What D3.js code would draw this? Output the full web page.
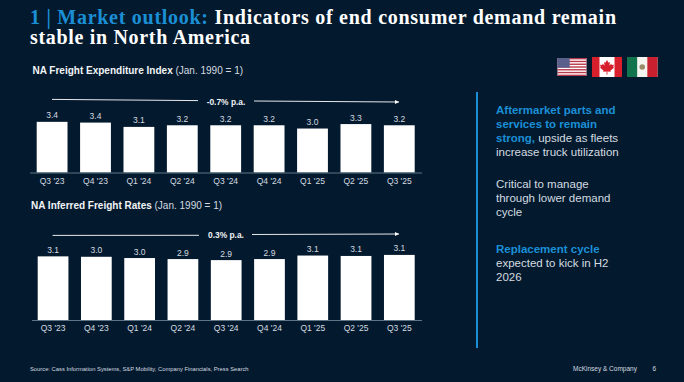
<!DOCTYPE html>
<html>
<head>
<meta charset="utf-8">
<script src="https://cdn.jsdelivr.net/npm/d3@7"></script>
<style>
  html, body { margin: 0; padding: 0; background: #031a2e; overflow: hidden; }
  svg { display: block; font-family: "Liberation Sans", Arial, sans-serif; }
</style>
</head>
<body>
<svg id="slide" width="684" height="382"></svg>
<script>
// chart data
const quarters = ["Q3 '23", "Q4 '23", "Q1 '24", "Q2 '24", "Q3 '24", "Q4 '24", "Q1 '25", "Q2 '25", "Q3 '25"]
const expenditure = [3.41, 3.36, 3.07, 3.18, 3.18, 3.18, 2.96, 3.26, 3.18]
const freightRates = [3.06, 3.04, 2.98, 2.93, 2.88, 2.93, 3.10, 3.08, 3.13]

const bgColor = "#031a2e", blue = "#1b8fd6", textColor = "#d5dbe0", axisColor = "#5f7484"

const svg = d3.select("#slide")
svg.append("rect").attr("width", 684).attr("height", 382).attr("fill", bgColor)

//---------------- title ----------------//
const title = svg.append("text").attr("x", 30).attr("y", 24)
  .attr("font-family", "'Liberation Serif', Georgia, serif").attr("font-weight", "bold")
  .attr("font-size", 20).attr("textLength", 586).attr("lengthAdjust", "spacing")
title.append("tspan").attr("fill", blue).text("1 | Market outlook: ")
title.append("tspan").attr("fill", "#fff").text("Indicators of end consumer demand remain")
svg.append("text").attr("x", 30).attr("y", 44)
  .attr("font-family", "'Liberation Serif', Georgia, serif").attr("font-weight", "bold")
  .attr("font-size", 20).attr("textLength", 220).attr("lengthAdjust", "spacing")
  .attr("fill", "#fff").text("stable in North America")

//---------------- bar charts ----------------//
function drawBars(cfg) {
  const g = svg.append("g")

  const sub = g.append("text").attr("x", cfg.subX).attr("y", cfg.subY).attr("font-size", 10).attr("fill", textColor)
  sub.append("tspan").attr("font-weight", "bold").attr("fill", "#f2f4f6").text(cfg.name)
  sub.append("tspan").text(" (Jan. 1990 = 1)")

  const x = d3.scaleBand().domain(quarters).range(cfg.xRange).paddingInner(0.29).paddingOuter(0)
  const y = d3.scaleLinear().domain([0, 3.4]).range([cfg.base, cfg.base - cfg.h34])

  g.selectAll("rect.bar").data(cfg.values).enter().append("rect")
    .attr("class", "bar")
    .attr("x", (d, i) => x(quarters[i]))
    .attr("y", d => y(d))
    .attr("width", x.bandwidth())
    .attr("height", d => y(0) - y(d))
    .attr("fill", "#fff")

  g.selectAll("text.val").data(cfg.values).enter().append("text")
    .attr("class", "val")
    .attr("x", (d, i) => x(quarters[i]) + x.bandwidth() / 2)
    .attr("y", d => y(d) - 3.5)
    .attr("text-anchor", "middle").attr("font-size", 8.5).attr("fill", textColor)
    .text(d => d.toFixed(1))

  // axis line and quarter labels
  const axis = g.append("g").attr("transform", `translate(0,${cfg.base})`)
    .call(d3.axisBottom(x).tickSize(0).tickPadding(5))
  axis.select(".domain").remove()
  axis.selectAll("text").attr("font-size", 8.5).attr("fill", textColor)
    .attr("font-family", "'Liberation Sans', Arial, sans-serif")
  g.append("line").attr("x1", cfg.axisX[0]).attr("x2", cfg.axisX[1])
    .attr("y1", cfg.base + 0.5).attr("y2", cfg.base + 0.5)
    .attr("stroke", axisColor).attr("stroke-width", 1)

  // growth arrow with label in the gap
  const a = cfg.arrow
  g.append("line").attr("x1", a[0][0]).attr("y1", a[0][1]).attr("x2", a[1][0]).attr("y2", a[1][1])
    .attr("stroke", "#fff").attr("stroke-width", 0.9)
  g.append("line").attr("x1", a[2][0]).attr("y1", a[2][1]).attr("x2", a[3][0]).attr("y2", a[3][1])
    .attr("stroke", "#fff").attr("stroke-width", 0.9)
  g.append("path")
    .attr("d", `M${a[3][0] - 4},${a[3][1] - 2}L${a[3][0]},${a[3][1]}L${a[3][0] - 4},${a[3][1] + 2}Z`)
    .attr("fill", "#fff")
  g.append("text").attr("x", 226).attr("y", cfg.rateY).attr("text-anchor", "middle")
    .attr("font-size", 8.4).attr("font-weight", "bold").attr("fill", "#f2f4f6").text(cfg.rate)
}

drawBars({
  name: "NA Freight Expenditure Index", subX: 32.5, subY: 74,
  values: expenditure, xRange: [36.7, 414.7], base: 172.5, h34: 50.5, axisX: [30, 422],
  arrow: [[52, 99.4], [198, 100.6], [254, 101], [399, 102]], rate: "-0.7% p.a.", rateY: 104.5
})
drawBars({
  name: "NA Inferred Freight Rates", subX: 31, subY: 209,
  values: freightRates, xRange: [37.7, 414.7], base: 320, h34: 70.7, axisX: [32, 422],
  arrow: [[52.6, 235.4], [199, 235.3], [252, 234.5], [399, 234]], rate: "0.3% p.a.", rateY: 238
})

//---------------- flags ----------------//
function usFlag(x0, y0, w, h) {
  const f = svg.append("g").attr("transform", `translate(${x0},${y0})`)
  f.append("rect").attr("width", w).attr("height", h).attr("fill", "#fff")
  d3.range(0, 13, 2).forEach(i => {
    f.append("rect").attr("y", i * h / 13).attr("width", w).attr("height", h / 13).attr("fill", "#b8374a")
  })
  f.append("rect").attr("width", w * 0.42).attr("height", h * 7 / 13).attr("fill", "#5a5f8c")
}
function caFlag(x0, y0, w, h) {
  const f = svg.append("g").attr("transform", `translate(${x0},${y0})`)
  f.append("rect").attr("width", w).attr("height", h).attr("fill", "#fff")
  f.append("rect").attr("width", w / 4).attr("height", h).attr("fill", "#d8202c")
  f.append("rect").attr("x", w * 3 / 4).attr("width", w / 4).attr("height", h).attr("fill", "#d8202c")
  f.append("path").attr("transform", `translate(${w / 2},${h / 2})`).attr("fill", "#d8202c")
    .attr("d", "M0,-7L1.6,-4.2L3,-5L2.4,-1.5L4.3,-3.2L4.8,-2L7,-2.3L6.2,0L7,0.7L3.5,3.5L3.8,4.8L0.4,4.4L0.5,7.5L-0.5,7.5L-0.4,4.4L-3.8,4.8L-3.5,3.5L-7,0.7L-6.2,0L-7,-2.3L-4.8,-2L-4.3,-3.2L-2.4,-1.5L-3,-5L-1.6,-4.2Z")
}
function mxFlag(x0, y0, w, h) {
  const f = svg.append("g").attr("transform", `translate(${x0},${y0})`)
  f.append("rect").attr("width", w).attr("height", h).attr("fill", "#f4f4f0")
  f.append("rect").attr("width", w / 3).attr("height", h).attr("fill", "#12744c")
  f.append("rect").attr("x", w * 2 / 3).attr("width", w / 3).attr("height", h).attr("fill", "#c8202f")
  f.append("circle").attr("cx", w / 2).attr("cy", h / 2).attr("r", 2.8).attr("fill", "#9a8a6a")
}
usFlag(557.5, 58, 29, 18)
caFlag(592, 57, 30, 20)
mxFlag(627, 57, 30.5, 20)

//---------------- right hand commentary ----------------//
svg.append("line").attr("x1", 477).attr("x2", 477).attr("y1", 92).attr("y2", 348)
  .attr("stroke", blue).attr("stroke-width", 2)

const notes = [
  { y: 114, parts: [["Aftermarket parts and", true]] },
  { y: 128, parts: [["services to remain", true]] },
  { y: 142, parts: [["strong,", true], [" upside as fleets", false]] },
  { y: 156, parts: [["increase truck utilization", false]] },
  { y: 188, parts: [["Critical to manage", false]] },
  { y: 202, parts: [["through lower demand", false]] },
  { y: 216, parts: [["cycle", false]] },
  { y: 253, parts: [["Replacement cycle", true]] },
  { y: 267, parts: [["expected to kick in H2", false]] },
  { y: 281, parts: [["2026", false]] }
]
notes.forEach(n => {
  const t = svg.append("text").attr("x", 496).attr("y", n.y).attr("font-size", 11.5)
  n.parts.forEach(p => {
    t.append("tspan").attr("fill", p[1] ? blue : textColor)
      .attr("font-weight", p[1] ? "bold" : "normal").text(p[0])
  })
})

//---------------- footer ----------------//
svg.append("text").attr("x", 30).attr("y", 370.5).attr("font-size", 5.8).attr("fill", textColor)
  .text("Source: Cass Information Systems, S&P Mobility, Company Financials, Press Search")
svg.append("text").attr("x", 573).attr("y", 370.5).attr("font-size", 6.5).attr("fill", textColor).text("McKinsey & Company")
svg.append("text").attr("x", 652.5).attr("y", 370.5).attr("font-size", 6.5).attr("fill", textColor).text("6")
</script>
</body>
</html>
